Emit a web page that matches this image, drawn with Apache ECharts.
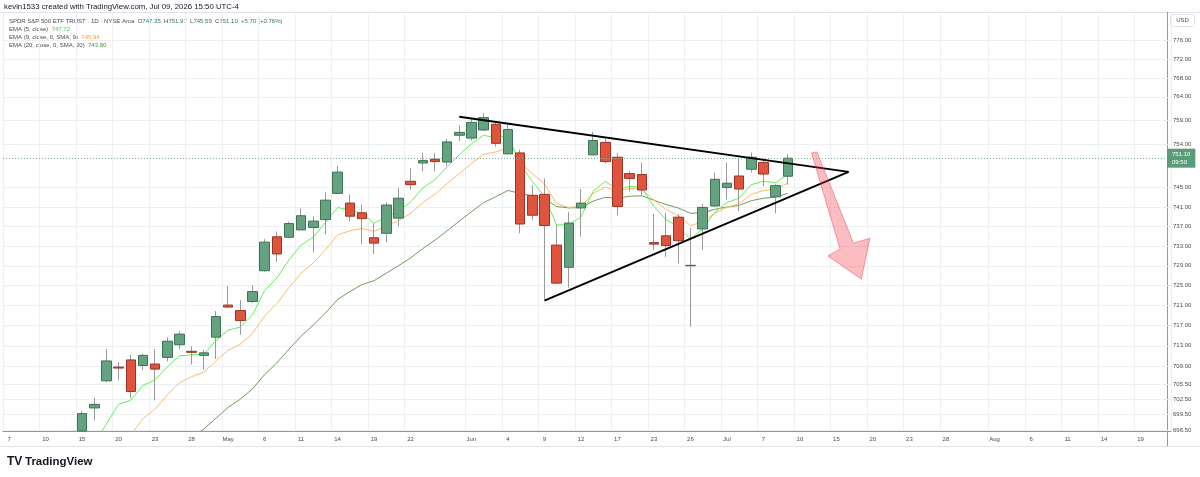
<!DOCTYPE html>
<html><head><meta charset="utf-8">
<script src="https://cdn.jsdelivr.net/npm/echarts@6/dist/echarts.min.js"></script>
<style>html,body{margin:0;padding:0;background:#fff}#c{width:1200px;height:477px}</style>
</head><body><div id="c"></div>
<script>
// ---------- DATA ----------
const categories = ['Apr 7','Apr 8','Apr 9','Apr 10','Apr 13','Apr 14','Apr 15','Apr 16','Apr 17','Apr 20','Apr 21','Apr 22','Apr 23','Apr 24','Apr 27','Apr 28','Apr 29','Apr 30',
'May 1','May 4','May 5','May 6','May 7','May 8','May 11','May 12','May 13','May 14','May 15','May 18','May 19','May 20','May 21','May 22','May 26','May 27','May 28','May 29',
'Jun 1','Jun 2','Jun 3','Jun 4','Jun 5','Jun 8','Jun 9','Jun 10','Jun 11','Jun 12','Jun 15','Jun 16','Jun 17','Jun 18','Jun 22','Jun 23','Jun 24','Jun 25','Jun 26','Jun 29','Jun 30',
'Jul 1','Jul 2','Jul 6','Jul 7','Jul 8','Jul 9','Jul 10','Jul 13','Jul 14','Jul 15','Jul 16','Jul 17','Jul 20','Jul 21','Jul 22','Jul 23','Jul 24','Jul 27','Jul 28','Jul 29','Jul 30','Jul 31',
'Aug 3','Aug 4','Aug 5','Aug 6','Aug 7','Aug 10','Aug 11','Aug 12','Aug 13','Aug 14','Aug 17','Aug 18','Aug 19','Aug 20','Aug 21'];

const xTickDates = ['Apr 7','Apr 10','Apr 15','Apr 20','Apr 23','Apr 28','May 1','May 6','May 11','May 14','May 19','May 22','Jun 1','Jun 4','Jun 9','Jun 12','Jun 17','Jun 23','Jun 26','Jul 1','Jul 7','Jul 10','Jul 15','Jul 20','Jul 23','Jul 28','Aug 3','Aug 6','Aug 11','Aug 14','Aug 19'];
const xTickTexts = ['7','10','15','20','23','28','May','6','11','14','19','22','Jun','4','9','12','17','23','26','Jul','7','10','15','20','23','28','Aug','6','11','14','19'];
const yTicks = [776,772,768,764,759,754,745,741,737,733,729,725,721,717,713,709,705.5,702.5,699.5,696.5];

const candleStartDate = 'Apr 15';
const open  = [693.0,700.8,706.1,708.8,710.2,709.1,709.4,710.7,713.2,711.9,711.1,714.7,721.1,720.0,721.8,728.0,734.9,734.8,736.3,736.8,738.4,743.8,741.8,739.8,734.7,735.6,738.7,746.3,750.1,750.9,750.3,755.9,755.3,757.0,758.2,752.0,752.2,743.4,743.6,733.2,728.7,740.8,751.8,754.4,751.3,747.9,747.7,733.7,735.1,738.9,729.0,736.5,741.2,745.0,747.4,748.8,750.2,743.1,747.35];
const close = [699.7,701.5,710.0,708.6,704.0,711.1,708.4,713.9,715.3,711.7,711.6,718.8,720.7,718.0,723.8,733.8,731.4,737.6,739.2,738.1,742.4,748.2,739.1,738.6,733.6,741.4,742.8,745.6,750.6,750.4,754.5,756.5,758.6,759.6,754.2,757.1,737.5,739.3,737.2,725.5,737.7,741.8,754.8,750.4,741.1,746.9,744.5,733.4,733.1,734.1,729.1,740.9,746.7,745.9,744.7,751.3,747.8,745.4,751.10];
const low   = [692.0,698.4,705.8,706.2,702.7,708.2,702.3,709.9,712.3,709.3,708.3,710.4,720.6,715.2,721.5,727.8,729.8,734.6,736.3,731.7,735.4,743.7,738.0,733.4,731.4,733.8,737.0,744.6,748.4,748.4,749.5,754.7,754.8,756.8,753.5,751.9,735.6,738.3,722.2,725.3,724.6,734.9,751.7,750.0,739.3,744.2,743.3,732.2,730.8,729.5,716.8,732.2,741.0,742.5,740.2,748.1,745.3,739.7,745.59];
const high  = [700.2,702.8,712.3,709.8,711.2,711.4,712.3,714.7,715.8,712.9,712.2,719.9,724.9,722.1,725.1,734.4,736.0,738.0,740.7,739.1,744.0,749.5,743.6,741.5,737.6,742.0,744.9,749.0,752.2,752.2,755.1,758.0,759.3,760.5,758.9,758.2,752.9,745.5,746.9,737.4,740.0,744.7,756.6,755.3,752.2,748.4,750.2,739.6,739.8,739.5,736.7,741.6,748.1,750.2,751.2,752.3,750.9,745.7,751.97];

const ema5  = ['-',694.0,697.7,701.5,702.3,705.2,706.3,708.8,711.0,711.2,711.3,714.0,716.1,716.7,719.1,724.0,726.5,730.2,733.2,734.8,737.8,740.9,740.3,739.7,737.7,738.9,740.1,742.0,744.9,746.6,749.3,751.8,754.1,755.9,755.3,755.9,749.8,746.3,743.2,737.3,737.4,738.9,744.2,746.3,744.5,745.3,745.0,741.1,738.4,737.0,734.4,736.5,739.9,741.9,742.8,745.6,746.3,746.0,747.72];
const ema9  = ['-','-','-',693.5,695.6,698.7,700.6,703.3,705.7,706.9,707.8,710.0,712.1,713.3,715.4,718.9,721.4,724.6,727.5,729.6,732.2,735.3,736.1,736.6,736.0,737.1,738.2,739.7,741.9,743.6,745.8,747.9,750.0,751.9,752.4,753.3,750.1,747.9,745.8,741.7,740.9,741.1,743.8,745.1,744.3,744.8,744.7,742.4,740.5,739.2,737.2,737.9,739.7,740.9,741.7,743.6,744.4,744.6,745.94];
const ema20 = ['-','-','-','-','-','-','-','-',693.4,695.1,696.7,698.8,700.9,702.5,704.5,707.3,709.6,712.3,714.9,717.1,719.5,722.2,723.8,725.2,726.0,727.5,729.0,730.6,732.5,734.2,736.1,738.1,740.0,741.9,743.1,744.4,743.8,743.3,742.7,741.1,740.8,740.9,742.2,743.0,742.8,743.2,743.3,742.4,741.5,740.8,739.7,739.8,740.5,741.0,741.3,742.3,742.8,743.0,743.80];

// drawings (bar date, price)
const trendUpper = [['May 29', 759.8], ['Jul 16', 748.25]];
const trendLower = [['Jun 9', 722.0], ['Jul 16', 748.25]];
// arrow vertices: [bar index (fractional), price]
const arrowPts = [[65.95,752.2],[66.4,752.4],[69.4,733.6],[70.75,734.6],[70.05,726.3],[67.3,731.0],[68.3,732.4]];

// ---------- BUILD ----------
const Y_MIN = 696.33, Y_MAX = 782.2;
const startIdx = categories.indexOf(candleStartDate);
const N = categories.length;
function pad(arr){ const out = new Array(N).fill('-'); arr.forEach((v,i)=>{ out[startIdx+i]=v; }); return out; }
const vis = v => Math.max(v, Y_MIN);   // candles are not clipped by the library: trim at the pane edge
const emptyK = ['-','-','-','-'];
const wickData = new Array(N).fill(emptyK), bodyData = new Array(N).fill(emptyK);
open.forEach((o,i)=>{
  const c = close[i];
  wickData[startIdx+i] = [vis(o), vis(c), vis(low[i]), vis(high[i])];
  bodyData[startIdx+i] = [vis(o), vis(c), vis(Math.min(o,c)), vis(Math.max(o,c))];
});
const tickMap = {}; xTickDates.forEach((d,i)=>tickMap[d]=xTickTexts[i]);
const isTick = (idx, val) => tickMap[val] !== undefined;
const toXY = pts => pts.map(p => [categories.indexOf(p[0]), p[1]]);

const n = open.length;
const lastO = open[n-1], lastC = close[n-1], lastH = high[n-1], lastL = low[n-1], prevC = close[n-2];
const chg = lastC - prevC, chgPct = chg / prevC * 100;
const FONT = 'Liberation Sans, Arial, sans-serif';

const chart = echarts.init(document.getElementById('c'), null, {renderer:'canvas'});
chart.setOption({
  animation: false,
  backgroundColor: '#ffffff',
  grid: {left: 3, right: 29, top: 12, bottom: 46, containLabel: false},
  xAxis: [{
    type: 'category', data: categories, boundaryGap: true,
    axisLine: {show: true, lineStyle: {color: '#9598a1', width: 1}},
    axisTick: {show: false},
    axisLabel: {interval: isTick, formatter: v => tickMap[v] || '', fontSize: 6, color: '#4a4a4a', margin: 5, fontFamily: FONT},
    splitLine: {show: true, interval: isTick, lineStyle: {color: '#eeeff2', width: 1}}
  }, {
    type: 'value', min: -0.5, max: N - 0.5, show: false
  }],
  yAxis: [{
    type: 'log', logBase: 10, min: Y_MIN, max: Y_MAX, position: 'right', offset: -3,
    axisLine: {show: false},
    axisTick: {show: false, customValues: yTicks},
    axisLabel: {customValues: yTicks, formatter: v => Number(v).toFixed(2), fontSize: 6, color: '#4a4a4a', margin: 5, fontFamily: FONT},
    splitLine: {show: true, lineStyle: {color: '#eeeff2', width: 1}}
  }],
  series: [
    {name:'EMA20', type:'line', data: pad(ema20), showSymbol:false, symbol:'none', clip:true, lineStyle:{color:'#6f9c5e', width:1}, z:2},
    {name:'EMA9', type:'line', data: pad(ema9), showSymbol:false, symbol:'none', clip:true, lineStyle:{color:'#ffb869', width:1}, z:2},
    {name:'EMA5', type:'line', data: pad(ema5), showSymbol:false, symbol:'none', clip:true, lineStyle:{color:'#5ff05a', width:1}, z:2},
    {name:'wick', type:'candlestick', data: wickData, barWidth: 1, clip: true,
      itemStyle:{color:'#9a9a9a', color0:'#9a9a9a', borderColor:'#9a9a9a', borderColor0:'#9a9a9a', borderWidth:1}, z:3},
    {name:'body', type:'candlestick', data: bodyData, barWidth: 10, clip: true,
      itemStyle:{color:'#65a380', color0:'#e0533d', borderColor:'#3d7254', borderColor0:'#9b3526', borderWidth:1}, z:4,
      markLine: {silent:true, symbol:'none', animation:false,
        lineStyle:{type:[1,2], color:'#7fae92', width:1},
        label:{show:true, position:'end', distance:-4, formatter: lastC.toFixed(2)+'\n09:50', color:'#fff', backgroundColor:'#5b9c78', fontSize:6, lineHeight:8, padding:[2,5,1,5], fontFamily: FONT},
        data:[{yAxis: lastC}]}
    },
    {name:'upper', type:'line', xAxisIndex:1, data: toXY(trendUpper), showSymbol:false, symbol:'none', lineStyle:{color:'#000', width:2}, z:6},
    {name:'lower', type:'line', xAxisIndex:1, data: toXY(trendLower), showSymbol:false, symbol:'none', lineStyle:{color:'#000', width:2}, z:6},
    {name:'arrow', type:'custom', xAxisIndex:1, data:[[67, 740]], z:7,
      renderItem: (params, api) => ({type:'polygon', shape:{points: arrowPts.map(p => api.coord(p))},
        style:{fill:'rgba(242,54,69,0.33)', stroke:'rgba(242,54,69,0.45)', lineWidth:1}})}
  ],
  graphic: [
    {type:'line', shape:{x1:0, y1:12.5, x2:1200, y2:12.5}, style:{stroke:'#e0e3eb', lineWidth:1}, silent:true},
    {type:'line', shape:{x1:0, y1:446.5, x2:1200, y2:446.5}, style:{stroke:'#e0e3eb', lineWidth:1}, silent:true},
    {type:'line', shape:{x1:1167.5, y1:12, x2:1167.5, y2:446}, style:{stroke:'#9598a1', lineWidth:1}, silent:true},
    {type:'text', x:4, y:7, style:{text:'kevin1533 created with TradingView.com, Jul 09, 2026 15:50 UTC-4', fontSize:7.8, fill:'#131722', verticalAlign:'middle', fontFamily: FONT}},
    {type:'text', x:9, y:21.7, style:{verticalAlign:'middle', fontFamily: FONT, fontSize:6,
      text:'{l|SPDR S&P 500 ETF TRUST · 1D · NYSE Arca}  {l|O}{v|'+lastO.toFixed(2)+'}  {l|H}{v|'+lastH.toFixed(2)+'}  {l|L}{v|'+lastL.toFixed(2)+'}  {l|C}{v|'+lastC.toFixed(2)+'}  {v|'+(chg>=0?'+':'')+chg.toFixed(2)+' ('+(chg>=0?'+':'')+chgPct.toFixed(2)+'%)}',
      rich:{l:{fill:'#4a4a4a', fontSize:6, fontFamily: FONT}, v:{fill:'#2e7d55', fontSize:6, fontFamily: FONT}}}},
    {type:'text', x:9, y:29.7, style:{verticalAlign:'middle', fontFamily: FONT, fontSize:6,
      text:'{l|EMA (5, close)}  {v|'+ema5[ema5.length-1].toFixed(2)+'}', rich:{l:{fill:'#4a4a4a', fontSize:6}, v:{fill:'#3fd23a', fontSize:6}}}},
    {type:'text', x:9, y:37.7, style:{verticalAlign:'middle', fontFamily: FONT, fontSize:6,
      text:'{l|EMA (9, close, 0, SMA, 9)}  {v|'+ema9[ema9.length-1].toFixed(2)+'}', rich:{l:{fill:'#4a4a4a', fontSize:6}, v:{fill:'#ff9d1c', fontSize:6}}}},
    {type:'text', x:9, y:45.7, style:{verticalAlign:'middle', fontFamily: FONT, fontSize:6,
      text:'{l|EMA (20, close, 0, SMA, 20)}  {v|'+ema20[ema20.length-1].toFixed(2)+'}', rich:{l:{fill:'#4a4a4a', fontSize:6}, v:{fill:'#4f8f3c', fontSize:6}}}},
    {type:'rect', shape:{x:1170.5, y:14.5, width:24, height:12, r:2}, style:{fill:'#fff', stroke:'#e0e3eb', lineWidth:1}},
    {type:'text', x:1182.5, y:20.5, style:{text:'USD', fontSize:6, fill:'#4a4a4a', align:'center', verticalAlign:'middle', fontFamily: FONT}},
    {type:'text', x:7, y:462, style:{text:'TV', fontSize:12, fontWeight:900, fill:'#131722', verticalAlign:'middle', fontFamily: FONT}},
    {type:'text', x:25, y:462, style:{text:'TradingView', fontSize:11.5, fontWeight:'bold', fill:'#131722', verticalAlign:'middle', fontFamily: FONT}}
  ]
});
</script>
</body></html>
